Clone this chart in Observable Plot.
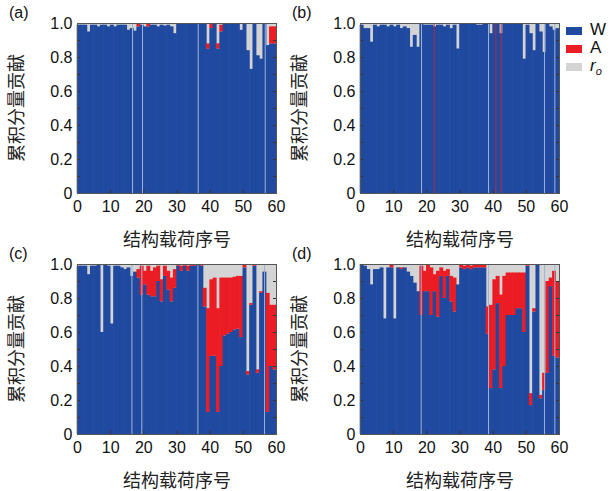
<!DOCTYPE html>
<html><head><meta charset="utf-8">
<script src="https://cdn.jsdelivr.net/npm/d3@7"></script>
<script src="https://cdn.jsdelivr.net/npm/@observablehq/plot@0.6"></script>
<style>
body{margin:0;background:#fff;width:614px;height:491px;position:relative;overflow:hidden;font-family:"Liberation Sans",Arial,sans-serif;}
.panel{position:absolute;}
.plab{position:absolute;font-size:16px;color:#111;}
.xlab,.ylab{position:absolute;font-family:"Noto Sans CJK SC",sans-serif;font-size:18px;color:#222;white-space:nowrap;}
.ylab{transform:translate(-50%,-50%) rotate(-90deg);}
.xlab{transform:translate(-50%,-50%);}
.leg{position:absolute;left:566px;font-size:17px;color:#111;}
.leg span.sw{display:inline-block;width:16px;height:8px;vertical-align:middle;margin-right:8px;}
</style></head><body>
<script>
// load sequence numbers 1..60
const loads = d3.range(1, 61);
const xTicks = [0, 10, 20, 30, 40, 50, 60];
const yTicks = [0, 0.2, 0.4, 0.6, 0.8, 1.0];
const yMinor = [0.1, 0.2, 0.3, 0.4, 0.5, 0.6, 0.7, 0.8, 0.9];
const components = ["W", "A", "r_o"];
const colors = ["#2049a0", "#ec1c24", "#d4d4d4"];

// Panel (a)
const W_a = [0.99,0.99,0.99,0.95,0.99,0.99,0.98,0.99,0.99,0.98,
             0.99,0.98,0.99,0.99,0.99,0.96,0.97,0.955,0.98,0.99,
             0.98,0.98,0.99,0.99,0.98,0.99,0.985,0.99,0.98,0.94,
             1.0,1.0,1.0,1.0,1.0,1.0,1.0,1.0,1.0,0.85,
             0.97,1.0,0.85,0.95,1.0,1.0,1.0,1.0,1.0,0.96,
             1.0,0.84,0.73,1.0,0.81,0.79,1.0,0.87,0.88,0.88];
const A_a = [0,0,0,0,0,0,0,0,0,0,
             0,0,0,0,0,0,0,0,0.015,0,
             0,0.02,0,0,0,0,0,0,0,0,
             0,0,0,0,0,0,0,0,0,0.03,
             0.03,0,0.03,0.04,0,0,0,0,0,0,
             0,0,0,0,0,0,0,0,0.10,0.10];
const sep_a = [16.6, 19.6, 36.4, 56.6];
const red_a = [];

// Panel (b)
const W_b = [0.99,0.97,0.97,0.89,0.99,0.98,0.99,0.99,0.98,0.99,
             0.98,0.99,0.97,0.98,0.97,0.86,0.93,0.86,1.0,0.99,
             0.99,0.99,0.98,0.99,0.99,0.98,0.99,0.97,0.99,0.85,
             1.0,1.0,1.0,1.0,1.0,0.99,0.99,0.995,1.0,0.94,
             1.0,1.0,0.94,1.0,1.0,1.0,1.0,1.0,1.0,0.79,
             0.99,0.94,0.84,1.0,0.95,0.83,1.0,0.98,0.96,0.97];
const A_b = new Array(60).fill(0);
const sep_b = [18.4, 38.6, 55.5, 58.6];
const red_b = [22.2, 40.8, 42.4];

// Panel (c)
const W_c = [0.99,0.99,0.99,0.94,0.99,0.99,1.0,0.60,1.0,0.99,
             0.65,0.99,0.99,0.98,0.97,0.98,0.93,0.955,0.92,0.82,
             0.88,0.82,0.81,0.81,0.90,0.78,0.93,0.85,0.78,0.86,
             0.99,0.96,0.99,0.96,0.99,0.99,1.0,0.99,0.75,0.13,
             0.46,0.46,0.13,0.40,0.58,0.59,0.60,0.615,0.62,0.57,
             0.98,0.35,0.76,0.99,0.36,0.83,0.955,0.13,0.40,0.38];
const A_c = [0,0,0,0,0,0,0,0,0,0,
             0,0,0,0,0,0,0,0,0.05,0.17,
             0.08,0.17,0.15,0.17,0.09,0.13,0.06,0.11,0.14,0.11,
             0.01,0.03,0.01,0.03,0.01,0.01,0,0.01,0.11,0.61,
             0.45,0.46,0.61,0.52,0.34,0.33,0.32,0.31,0.31,0.36,
             0.02,0.02,0.01,0.01,0.02,0.01,0,0.70,0.36,0.38];
const sep_c = [16.4, 19.4, 36.3, 56.4];
const red_c = [];

// Panel (d)
const W_d = [1.0,0.99,0.97,0.88,0.97,0.97,0.98,0.68,0.98,0.98,
             0.68,0.98,0.97,0.98,0.955,0.93,0.89,0.84,0.70,0.84,
             0.84,0.70,0.84,0.69,0.93,0.80,0.93,0.78,0.72,0.88,
             0.98,0.97,0.98,0.97,0.98,0.98,0.98,0.98,0.59,0.27,
             0.38,0.77,0.27,0.40,0.70,0.70,0.70,0.74,0.74,0.60,
             0.99,0.17,0.72,1.0,0.21,0.26,0.36,0.87,0.46,0.45];
const A_d = [0,0,0,0,0,0,0,0,0,0.02,
             0,0,0.01,0,0,0,0,0,0.29,0.12,
             0.16,0.28,0.10,0.27,0.05,0.16,0.04,0.15,0.20,0,
             0.02,0.02,0.02,0.02,0.015,0.02,0.02,0.02,0.16,0.49,
             0.53,0.16,0.55,0.53,0.25,0.25,0.25,0.21,0.21,0.35,
             0.01,0.07,0.02,0,0.02,0.10,0.54,0.05,0.50,0.45];
const sep_d = [18.3, 38.6, 55.5, 58.6];
const red_d = [];

function rowsOf(W, A) {
  const rows = [];
  loads.forEach((n, i) => {
    rows.push({n, comp: "W", y1: 0, y2: W[i]});
    if (A[i] > 0) rows.push({n, comp: "A", y1: W[i], y2: W[i] + A[i]});
  });
  return rows;
}

function panel(W, A, sep, red) {
  return Plot.plot({
    width: 300, height: 245,
    marginLeft: 77, marginRight: 24, marginTop: 23, marginBottom: 52,
    style: {fontFamily: "'Liberation Sans', Arial, sans-serif", fontSize: "16px", color: "#111", background: "transparent", overflow: "visible"},
    x: {domain: [0, 60], ticks: xTicks, tickFormat: d => String(d), tickSize: 0, tickPadding: 7, label: null},
    y: {domain: [0, 1], ticks: yTicks, tickFormat: d => d === 0 ? "0" : d.toFixed(1), tickSize: 0, tickPadding: 5, label: null},
    color: {domain: components, range: colors},
    marks: [
      Plot.frame({fill: colors[2]}),
      Plot.rectY(rowsOf(W, A), {x1: d => d.n - 1, x2: d => d.n, y1: "y1", y2: "y2", fill: "comp", insetLeft: -0.3, insetRight: -0.3}),
      Plot.ruleX(sep, {stroke: "#9fb2d6", strokeWidth: 1}),
      Plot.ruleX(red, {stroke: "#b8283c", strokeWidth: 1}),
      Plot.ruleY(yMinor, {x1: 0, x2: 0.9, stroke: "#333"}),
      Plot.ruleY(yMinor, {x1: 59.1, x2: 60, stroke: "#333"}),
      Plot.ruleX(xTicks.slice(1, -1), {y1: 0, y2: 0.02, stroke: "#333"}),
      Plot.frame({stroke: "#555"})
    ]
  });
}

const specs = [
  {W: W_a, A: A_a, sep: sep_a, red: red_a, left: 0, top: 0, lab: "(a)"},
  {W: W_b, A: A_b, sep: sep_b, red: red_b, left: 283, top: 0, lab: "(b)"},
  {W: W_c, A: A_c, sep: sep_c, red: red_c, left: 0, top: 241, lab: "(c)"},
  {W: W_d, A: A_d, sep: sep_d, red: red_d, left: 283, top: 241, lab: "(d)"}
];
for (const s of specs) {
  const div = document.createElement("div");
  div.className = "panel";
  div.style.left = s.left + "px";
  div.style.top = s.top + "px";
  div.appendChild(panel(s.W, s.A, s.sep, s.red));
  document.body.appendChild(div);
  const pl = document.createElement("div");
  pl.className = "plab"; pl.textContent = s.lab;
  pl.style.left = (s.left + 9) + "px"; pl.style.top = (s.top + 4) + "px";
  document.body.appendChild(pl);
  const yl = document.createElement("div");
  yl.className = "ylab"; yl.textContent = "累积分量贡献";
  yl.style.left = (s.left + 15) + "px"; yl.style.top = (s.top + 108) + "px";
  document.body.appendChild(yl);
  const xl = document.createElement("div");
  xl.className = "xlab"; xl.textContent = "结构载荷序号";
  xl.style.left = (s.left + 177) + "px"; xl.style.top = (s.top + 238) + "px";
  document.body.appendChild(xl);
}
// legend
const legTops = [20, 38, 56];
const legLabels = ["W", "A", "<i>r</i><sub style='font-size:11px'><i>o</i></sub>"];
components.forEach((c, i) => {
  const d = document.createElement("div");
  d.className = "leg";
  d.style.top = legTops[i] + "px";
  d.innerHTML = `<span class="sw" style="background:${colors[i]}"></span>${legLabels[i]}`;
  document.body.appendChild(d);
});
</script>
</body></html>
